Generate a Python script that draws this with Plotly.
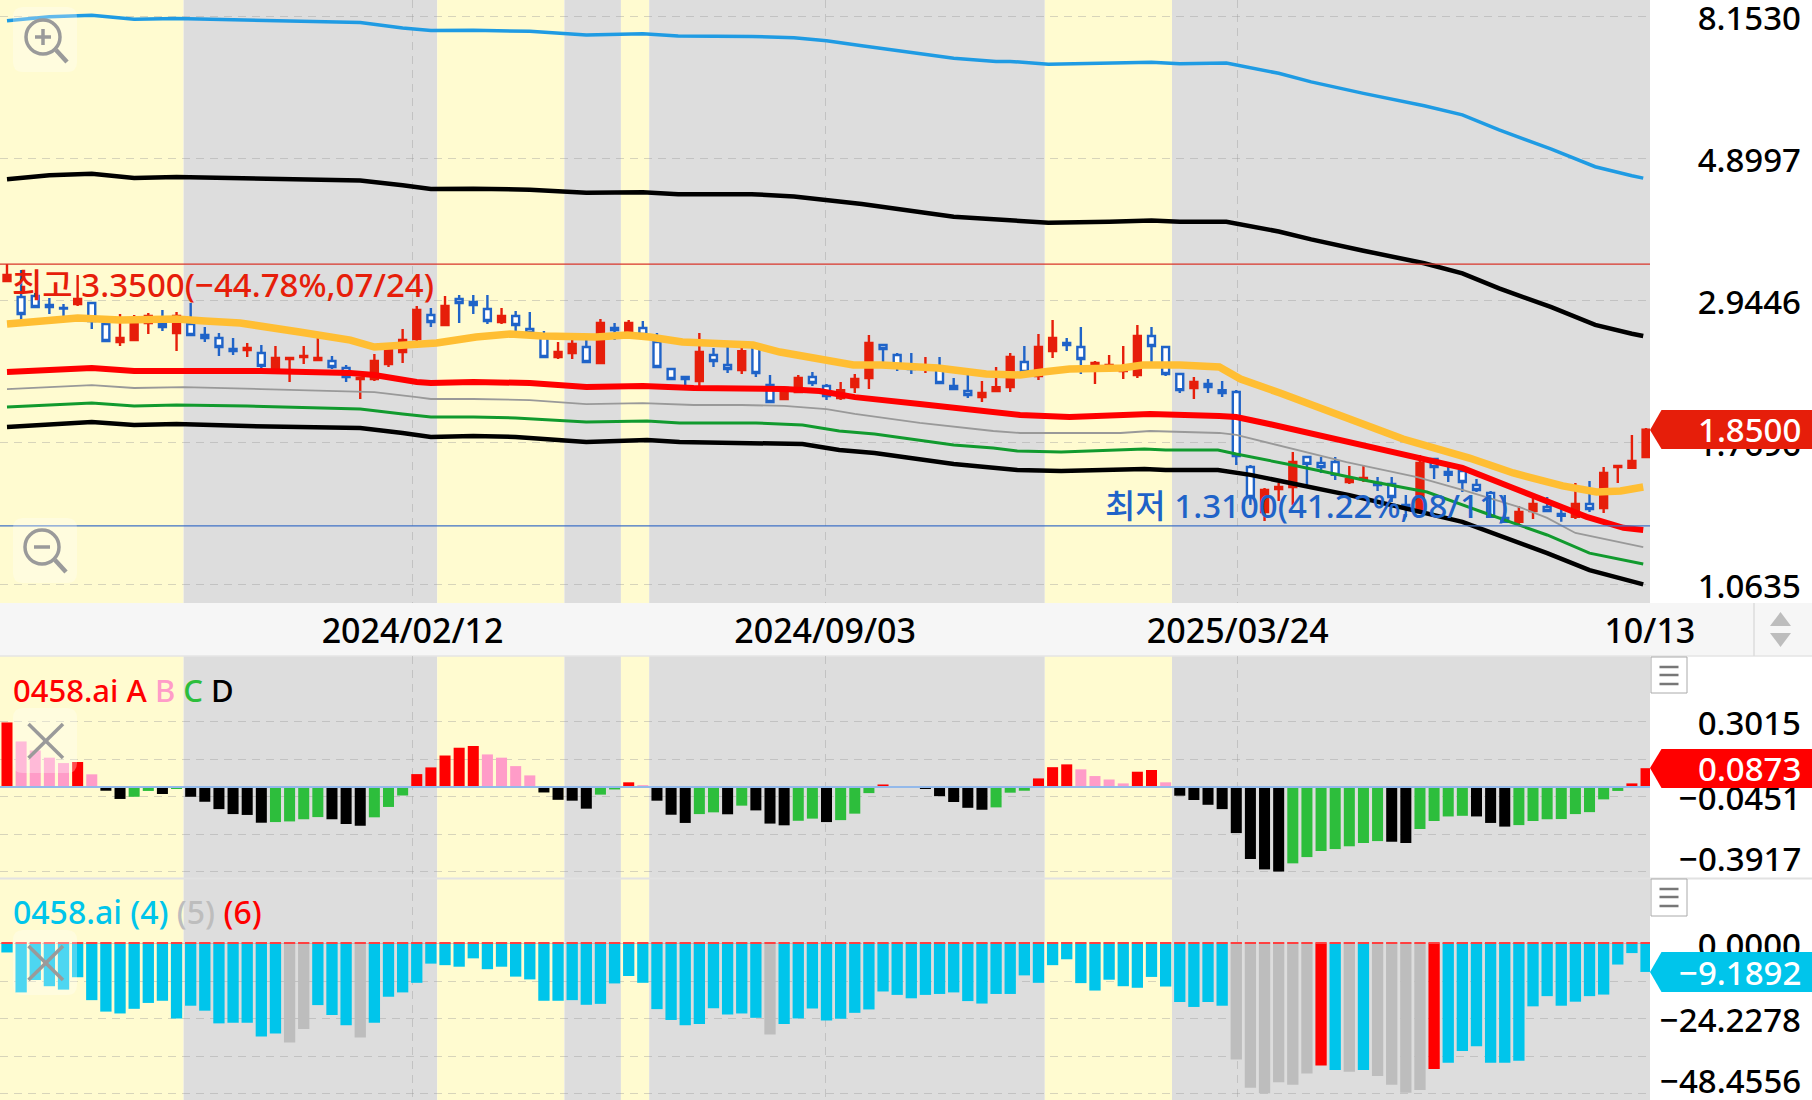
import math
import plotly.graph_objects as go

W, H = 1812, 1100
FONT = "Noto Sans, Noto Sans CJK KR, sans-serif"

# ---------- price candles (weekly, 2023/07/24 .. 2025/10/13) ----------
open_prices = [3.153,2.977,2.988,2.893,2.862,2.903,2.913,2.702,2.533,2.551,2.712,2.702,2.616,2.702,2.598,2.570,2.470,2.461,2.435,2.283,
2.383,2.401,2.375,2.367,2.308,2.218,2.218,2.341,2.444,2.560,2.791,2.693,2.955,2.924,2.851,2.722,2.781,2.654,2.598,2.401,
2.435,2.488,2.350,2.664,2.635,2.664,2.533,2.299,2.234,2.202,2.418,2.333,2.291,2.488,2.171,2.065,2.117,2.234,2.163,2.072,
2.155,2.226,2.506,2.418,2.333,2.316,2.316,2.163,2.125,2.079,2.125,2.155,2.358,2.242,2.452,2.524,2.488,2.341,2.308,2.283,
2.251,2.588,2.488,2.259,2.148,2.179,2.132,2.117,1.618,1.377,1.495,1.506,1.677,1.642,1.647,1.533,1.550,1.528,1.522,1.412,
1.377,1.665,1.590,1.595,1.517,1.474,1.348,1.329,1.382,1.402,1.367,1.353,1.417,1.397,1.618,1.613,1.677]
high_prices = [3.350,3.279,3.020,2.966,2.903,3.221,2.924,2.722,2.801,2.791,2.811,2.841,2.821,2.913,2.673,2.616,2.570,2.524,2.506,2.497,
2.392,2.497,2.579,2.409,2.333,2.226,2.426,2.488,2.654,2.882,2.862,2.988,2.999,2.999,2.999,2.862,2.831,2.821,2.635,2.533,
2.560,2.579,2.751,2.712,2.741,2.731,2.616,2.308,2.234,2.616,2.479,2.515,2.497,2.524,2.251,2.148,2.251,2.275,2.179,2.195,
2.259,2.598,2.506,2.435,2.435,2.401,2.401,2.226,2.259,2.202,2.316,2.435,2.497,2.607,2.741,2.570,2.673,2.367,2.418,2.497,
2.693,2.673,2.488,2.267,2.234,2.218,2.202,2.132,1.630,1.501,1.528,1.708,1.683,1.677,1.677,1.624,1.630,1.561,1.561,1.463,
1.689,1.665,1.647,1.624,1.550,1.485,1.463,1.407,1.448,1.453,1.397,1.528,1.539,1.618,1.630,1.815,1.861]
low_prices = [3.153,2.741,2.862,2.801,2.771,2.882,2.654,2.533,2.497,2.551,2.607,2.635,2.452,2.598,2.533,2.409,2.418,2.401,2.267,2.283,
2.195,2.341,2.375,2.299,2.195,2.065,2.202,2.316,2.350,2.479,2.673,2.693,2.712,2.801,2.702,2.702,2.626,2.598,2.401,2.383,
2.383,2.358,2.350,2.551,2.607,2.560,2.316,2.218,2.163,2.163,2.316,2.267,2.259,2.234,2.043,2.065,2.110,2.163,2.057,2.057,
2.110,2.140,2.316,2.283,2.259,2.267,2.187,2.140,2.072,2.043,2.125,2.117,2.275,2.210,2.392,2.452,2.259,2.179,2.275,2.218,
2.226,2.316,2.242,2.110,2.065,2.110,2.079,1.630,1.412,1.333,1.432,1.412,1.512,1.584,1.544,1.522,1.533,1.485,1.427,1.353,
1.372,1.550,1.533,1.479,1.479,1.353,1.329,1.310,1.343,1.382,1.329,1.343,1.377,1.372,1.528,1.613,1.677]
close_prices = [3.221,2.801,2.872,2.872,2.856,2.955,2.731,2.542,2.570,2.712,2.781,2.673,2.781,2.598,2.570,2.488,2.452,2.479,2.325,2.392,
2.392,2.409,2.392,2.316,2.234,2.226,2.367,2.470,2.551,2.841,2.722,2.882,2.913,2.893,2.731,2.781,2.693,2.616,2.401,2.444,
2.515,2.358,2.712,2.644,2.712,2.598,2.316,2.218,2.218,2.444,2.367,2.299,2.452,2.267,2.043,2.148,2.226,2.187,2.087,2.132,
2.218,2.524,2.470,2.325,2.299,2.325,2.187,2.140,2.095,2.110,2.155,2.401,2.275,2.488,2.570,2.506,2.383,2.350,2.333,2.308,
2.588,2.497,2.259,2.132,2.195,2.155,2.110,1.683,1.453,1.490,1.506,1.647,1.636,1.618,1.573,1.550,1.556,1.517,1.453,1.397,
1.642,1.618,1.573,1.533,1.490,1.353,1.329,1.377,1.417,1.382,1.358,1.417,1.392,1.584,1.624,1.653,1.850]
week_index = list(range(len(close_prices)))

# ---------- price envelope lines, read at their bends ----------
upper_x = [0,3,6,9,12,17,22,25,28,30,33,37,41,45,47.5,52.7,55.7,58,60.5,67,70,71,73.7,78,81,83,86.3,90,92.3,96,100.3,103,105.6,109.3,112.4,115,115.8]
upper_sky = [8.02,8.135,8.176,8.06,8.08,8.04,8.01,7.97,7.81,7.74,7.75,7.72,7.62,7.65,7.59,7.58,7.54,7.46,7.33,7.01,6.93,6.93,6.86,6.88,6.91,6.87,6.89,6.64,6.44,6.18,5.91,5.72,5.42,5.06,4.75,4.60,4.56]
upper_black = [4.54,4.606,4.63,4.563,4.58,4.557,4.54,4.52,4.445,4.386,4.39,4.375,4.325,4.336,4.305,4.305,4.27,4.217,4.157,3.97,3.925,3.925,3.885,3.898,3.915,3.898,3.90,3.765,3.66,3.515,3.36,3.24,3.07,2.87,2.693,2.61,2.588]
orange_x = [0,5,8,12,14,16.5,20.7,24.3,26,28,30.4,33.2,35.6,37.9,39.8,41.7,43.9,45.5,47.8,52.8,54.7,57.5,59.9,61.9,65.9,69.3,71.7,73.3,75.2,78.9,80.4,83,85.8,87.3,90.1,98.8,103.5,106.6,110.1,112.5,114.2,115.8]
orange_line = [2.702,2.761,2.741,2.751,2.731,2.712,2.626,2.551,2.488,2.497,2.524,2.579,2.607,2.588,2.579,2.579,2.598,2.579,2.533,2.506,2.444,2.375,2.333,2.333,2.308,2.259,2.251,2.275,2.299,2.308,2.333,2.333,2.316,2.218,2.110,1.789,1.671,1.584,1.512,1.479,1.485,1.506]
red_x = [0,6,9,12.5,18,24.3,26,29,30,33,37,41,45,48.6,52,55,57.5,60,64.6,69.8,71.7,75.2,78.8,80.9,85.8,87,89,94.8,99.8,103,106.6,108.7,111.8,114.4,115.8]
red_line = [2.275,2.308,2.283,2.283,2.283,2.267,2.251,2.195,2.187,2.195,2.187,2.155,2.163,2.148,2.148,2.140,2.125,2.079,2.028,1.964,1.950,1.936,1.943,1.957,1.943,1.936,1.895,1.776,1.677,1.613,1.501,1.437,1.353,1.301,1.291]
grey_x = [0,6,9,12.5,18,24.3,26,29,30,33,37,41,45,48.6,52,55,58,60,64.6,69.8,71.7,75.2,78.8,80.9,85.8,87,89,94.8,99.8,103,107.2,109,111,115.8]
grey_line = [2.140,2.171,2.148,2.155,2.140,2.125,2.117,2.079,2.065,2.065,2.057,2.028,2.035,2.021,2.021,2.014,1.992,1.957,1.895,1.841,1.828,1.828,1.828,1.841,1.828,1.815,1.770,1.647,1.561,1.490,1.397,1.348,1.277,1.214]
green_x = [0,6,9,12,17,25,28,30,33,36,41,45.3,47.6,53,56.3,58.9,61.4,67,69.8,71.5,74.6,80.5,82,85.7,87,91.3,96,100.5,104.4,109,112,115.8]
green_line = [2.007,2.035,2.014,2.021,2.014,1.992,1.957,1.936,1.936,1.929,1.901,1.908,1.895,1.895,1.881,1.841,1.821,1.751,1.732,1.714,1.708,1.726,1.720,1.720,1.695,1.624,1.544,1.479,1.377,1.268,1.188,1.143]
lower_x = [0,6,9,12,17,25,28,30,33,36,41,45.3,47.6,53,56.3,58.9,61.4,67,69.8,71.5,74.6,80.5,82,85.7,88,95,103,109,112,115.8]
lower_black = [1.868,1.901,1.881,1.888,1.874,1.861,1.828,1.802,1.808,1.802,1.770,1.782,1.770,1.763,1.757,1.720,1.701,1.636,1.613,1.601,1.595,1.607,1.601,1.601,1.573,1.463,1.329,1.188,1.118,1.062]

high_mark = 3.35
low_mark = 1.31

# ---------- oscillator panel ----------
osc_values = [.299,.211,.169,.136,.111,.116,.059,-.017,-.055,-.045,-.018,-.032,-.008,-.045,-.068,-.102,-.125,-.129,-.165,-.162,
-.159,-.149,-.139,-.149,-.171,-.179,-.140,-.092,-.039,.060,.091,.146,.182,.190,.151,.136,.097,.054,-.025,-.059,
-.063,-.100,-.035,-.011,.022,.009,-.063,-.128,-.166,-.125,-.117,-.126,-.086,-.108,-.169,-.177,-.156,-.146,-.162,-.153,
-.123,-.028,.012,.005,.003,-.008,-.042,-.069,-.096,-.105,-.094,-.026,-.017,.040,.092,.105,.082,.051,.035,.017,
.071,.079,.022,-.040,-.060,-.082,-.102,-.213,-.333,-.381,-.391,-.353,-.324,-.296,-.287,-.274,-.259,-.250,-.253,-.259,
-.194,-.157,-.136,-.133,-.136,-.166,-.183,-.176,-.157,-.149,-.148,-.125,-.116,-.057,-.018,.017,.0873]
osc_kinds = list("ABBBBABDDCCDCDDDDDDCCCCDDDCCCAAAAABBBBDDDDCCABDDDCCDCDDDCCDCCCABBDDDDDCCCAAABBBBAABDDDDDDDDCCCCCCCDDCCCCDDDCCCCCCCCAA")
osc_palette = {"A": "#FF0000", "B": "#FF9CC8", "C": "#2DBE3C", "D": "#000000"}

# ---------- momentum panel ----------
mom_values = [-2.9,-15.8,-11.8,-13.8,-14.9,-10.9,-18.3,-22.0,-22.6,-21.1,-19.2,-18.5,-24.2,-20.1,-21.7,-25.8,-25.6,-25.6,-30.0,-29.1,
-32.0,-27.6,-19.9,-23.1,-26.4,-30.4,-25.6,-17.2,-15.8,-12.7,-6.5,-7.0,-7.5,-4.8,-8.3,-7.5,-10.7,-11.6,-18.5,-18.5,
-18.3,-19.8,-19.5,-12.9,-10.5,-12.7,-21.2,-24.7,-26.4,-26.0,-20.9,-22.9,-22.6,-24.0,-29.4,-26.0,-24.2,-21.0,-24.9,-24.3,
-22.4,-21.3,-15.5,-16.6,-17.7,-16.6,-16.3,-15.8,-18.6,-19.4,-16.3,-16.3,-10.3,-12.7,-7.0,-5.1,-12.8,-15.2,-11.7,-13.8,
-14.3,-10.8,-13.9,-18.9,-20.5,-18.9,-20.1,-37.5,-46.6,-48.4,-44.8,-45.6,-42.0,-39.4,-40.9,-41.4,-40.9,-42.8,-45.6,-48.2,
-47.3,-40.5,-38.5,-34.7,-33.2,-38.5,-38.5,-37.9,-20.3,-17.0,-20.1,-18.8,-17.0,-16.5,-6.8,-3.1,-9.1892]
mom_kinds = list("CCCCCCCCCCCCCCCCCCCCGGCCCGCCCCCCCCCCCCCCCCCCCCCCCCCCCCGCCCCCCCCCCCCCCCCCCCCCCCCCCCCCCCCGGGGGGRCGCGGGGRCCCCCCCCCCCCCCCC")
mom_palette = {"C": "#00C5EB", "G": "#BDBDBD", "R": "#FF0000"}
mom_cap = [0.35] * len(mom_values)

# ---------- axis / labels ----------
grid_x = [28.7, 57.9, 87.1]
date_x = [28.7, 57.9, 87.1, 116.27]
date_text = ["2024/02/12", "2024/09/03", "2025/03/24", "10/13"]
price_ticks = [8.1530, 4.8997, 2.9446, 1.7696, 1.0635]
price_text = ["8.1530", "4.8997", "2.9446", "1.7696", "1.0635"]
osc_ticks = [0.3015, 0.1282, -0.0451, -0.2184, -0.3917]
osc_text = ["0.3015", "", "\u22120.0451", "", ""]
mom_ticks = [0.0, -12.1139, -24.2278, -36.3417, -48.4556]
mom_text = ["0.0000", "", "\u221224.2278", "", ""]
band_edges = [-0.5, 12.5, 30.45, 39.45, 43.45, 45.45, 73.45, 82.45, 116.28]
band_colors = ["#FFFBD0", "#DDDDDD", "#FFFBD0", "#DDDDDD", "#FFFBD0", "#DDDDDD", "#FFFBD0", "#DDDDDD"]

# layout helpers (pixels of the frame -> paper)
def py(p): return 1 - p / H
def px(p): return p / W

DOM1 = [py(603), 1]
DOM2 = [py(878), py(656)]
DOM3 = [0, py(879)]
XDOM = [0, px(1650)]
XRANGE = [-0.495, 116.28]

fig = go.Figure()

def line(x, y, color, width):
    fig.add_trace(go.Scatter(x=x, y=y, mode="lines", line=dict(color=color, width=width),
                             hoverinfo="skip", xaxis="x", yaxis="y"))

line(upper_x, upper_sky, "#1F9BE3", 3.5)
line(upper_x, upper_black, "#000000", 4.5)
line(orange_x, orange_line, "#FFBE33", 7.5)
line(red_x, red_line, "#FF0000", 6)
line(grey_x, grey_line, "#999999", 1.8)
line(green_x, green_line, "#119A2E", 3)
line(lower_x, lower_black, "#000000", 4.5)

fig.add_trace(go.Candlestick(
    x=week_index, open=open_prices, high=high_prices, low=low_prices, close=close_prices,
    increasing=dict(line=dict(color="#E61E0A", width=2.4), fillcolor="#E61E0A"),
    decreasing=dict(line=dict(color="#1F63C8", width=2.4), fillcolor="#FFFFFF"),
    whiskerwidth=0, hoverinfo="skip", xaxis="x", yaxis="y"))

fig.add_trace(go.Bar(x=week_index, y=osc_values, width=0.78,
                     marker=dict(color=[osc_palette[k] for k in osc_kinds], line=dict(width=0)),
                     hoverinfo="skip", xaxis="x2", yaxis="y2"))
fig.add_trace(go.Bar(x=week_index, y=mom_values, width=0.8,
                     marker=dict(color=[mom_palette[k] for k in mom_kinds], line=dict(width=0)),
                     hoverinfo="skip", xaxis="x3", yaxis="y3"))
fig.add_trace(go.Bar(x=week_index, y=mom_cap, width=0.8,
                     marker=dict(color="#FF4040", line=dict(width=0)),
                     hoverinfo="skip", xaxis="x3", yaxis="y3"))

shapes = []
# coloured bands behind all three panels
for dom in (DOM1, DOM2, DOM3):
    for i, c in enumerate(band_colors):
        shapes.append(dict(type="rect", xref="x", yref="paper", x0=band_edges[i], x1=band_edges[i + 1],
                           y0=dom[0], y1=dom[1], fillcolor=c, line_width=0, layer="below"))
# date strip
shapes.append(dict(type="rect", xref="paper", yref="paper", x0=0, x1=1, y0=py(656), y1=py(603),
                   fillcolor="#F6F6F6", line_width=0, layer="below"))
shapes.append(dict(type="line", xref="paper", yref="paper", x0=0, x1=1, y0=py(656), y1=py(656),
                   line=dict(color="#E4E4E4", width=1.5), layer="below"))
shapes.append(dict(type="line", xref="paper", yref="paper", x0=px(1754), x1=px(1754), y0=py(656), y1=py(603),
                   line=dict(color="#DDDDDD", width=1.5), layer="below"))
shapes.append(dict(type="line", xref="paper", yref="paper", x0=0, x1=1, y0=py(878.5), y1=py(878.5),
                   line=dict(color="#E2E2E2", width=2), layer="above"))
# strip arrows
shapes.append(dict(type="path", xref="paper", yref="paper", fillcolor="#BDBDBD", line_width=0,
                   path=f"M {px(1770)} {py(626)} L {px(1791)} {py(626)} L {px(1780.5)} {py(612)} Z"))
shapes.append(dict(type="path", xref="paper", yref="paper", fillcolor="#BDBDBD", line_width=0,
                   path=f"M {px(1770)} {py(633)} L {px(1791)} {py(633)} L {px(1780.5)} {py(647)} Z"))
# high / low marks
shapes.append(dict(type="line", xref="paper", yref="y", x0=0, x1=XDOM[1], y0=high_mark, y1=high_mark,
                   line=dict(color="#D8342A", width=1.2)))
shapes.append(dict(type="line", xref="paper", yref="y", x0=0, x1=XDOM[1], y0=low_mark, y1=low_mark,
                   line=dict(color="#3E70C6", width=1.2)))
# zero line of the oscillator
shapes.append(dict(type="line", xref="paper", yref="y2", x0=0, x1=XDOM[1], y0=0, y1=0,
                   line=dict(color="#93B9EA", width=2)))

def tag(top, tip, bottom, color):
    shapes.append(dict(type="path", xref="paper", yref="paper", fillcolor=color, line_width=0,
        path=(f"M {px(1650)} {py(tip)} L {px(1661.5)} {py(top)} L {px(1812)} {py(top)} "
              f"L {px(1812)} {py(bottom)} L {px(1661.5)} {py(bottom)} Z")))
tag(410, 430, 449, "#E61E0A")
tag(749, 768, 788, "#FF0000")
tag(952, 972, 992, "#00C5EB")

# translucent tool buttons
def round_box(x0, y0, x1, y1, r=10):
    p = (f"M {px(x0+r)} {py(y0)} L {px(x1-r)} {py(y0)} Q {px(x1)} {py(y0)} {px(x1)} {py(y0+r)} "
         f"L {px(x1)} {py(y1-r)} Q {px(x1)} {py(y1)} {px(x1-r)} {py(y1)} L {px(x0+r)} {py(y1)} "
         f"Q {px(x0)} {py(y1)} {px(x0)} {py(y1-r)} L {px(x0)} {py(y0+r)} Q {px(x0)} {py(y0)} {px(x0+r)} {py(y0)} Z")
    shapes.append(dict(type="path", xref="paper", yref="paper", path=p,
                       fillcolor="rgba(255,255,255,0.30)", line_width=0))
def seg(x0, y0, x1, y1, color="#9A9A9A", width=3.5):
    shapes.append(dict(type="line", xref="paper", yref="paper", x0=px(x0), x1=px(x1), y0=py(y0), y1=py(y1),
                       line=dict(color=color, width=width)))
def magnifier(cx, cy, plus):
    shapes.append(dict(type="circle", xref="paper", yref="paper", x0=px(cx-17), x1=px(cx+17),
                       y0=py(cy+17), y1=py(cy-17), line=dict(color="#9A9A9A", width=3.5)))
    seg(cx+13, cy+13, cx+24, cy+25, width=4.5)
    seg(cx-8, cy, cx+8, cy, width=3.5)
    if plus:
        seg(cx, cy-8, cx, cy+8, width=3.5)

round_box(13, 7, 77, 72)
magnifier(43, 37, True)
round_box(13, 518, 77, 583)
magnifier(42, 547, False)
round_box(13, 708, 77, 773)
seg(28.5, 724, 63, 758); seg(28.5, 758, 63, 724)
round_box(13, 930, 77, 995)
seg(28.5, 946, 63, 980); seg(28.5, 980, 63, 946)

# panel menu buttons
for top, bottom, rows in ((657, 693, (667, 675, 684)), (879, 916, (889, 897, 906))):
    shapes.append(dict(type="rect", xref="paper", yref="paper", x0=px(1651), x1=px(1687), y0=py(bottom), y1=py(top),
                       fillcolor="#FFFFFF", line=dict(color="#AAAAAA", width=1)))
    for r in rows:
        seg(1659.5, r, 1678.5, r, color="#777777", width=2.5)

def note(x, y, text, color="#000000", size=33, anchor="left"):
    return dict(xref="paper", yref="paper", x=px(x), y=py(y), text=text, showarrow=False,
                xanchor=anchor, yanchor="middle", font=dict(family=FONT, size=size, color=color, weight=500))

annotations = [
    note(10, 285, "최고 3.3500(\u221244.78%,07/24)", "#E61E0A"),
    note(1103, 506, "최저 1.3100(41.22%,08/11)", "#1F63C8"),
    note(11, 690, '<span style="color:#FF0000">0458.ai A</span> <span style="color:#FF9CC8">B</span> '
                  '<span style="color:#2DBE3C">C</span> <span style="color:#000000">D</span>', size=31),
    note(11, 911, '<span style="color:#00C5EB">0458.ai (4)</span> <span style="color:#BDBDBD">(5)</span> '
                  '<span style="color:#FF0000">(6)</span>', size=32),
    note(1803, 430, "1.8500", "#FFFFFF", anchor="right"),
    note(1803, 768, "0.0873", "#FFFFFF", anchor="right"),
    note(1803, 972, "\u22129.1892", "#FFFFFF", anchor="right"),
    note(1803, 858, "\u22120.3917", anchor="right"),
    note(1803, 1080, "\u221248.4556", anchor="right"),
]

GRID = "rgba(150,150,150,0.38)"
def yaxis(dom, ticks, text, rng, kind="linear"):
    return dict(domain=dom, range=rng, type=kind, side="left", anchor="free", position=px(1801),
                automargin=False, ticklabeloverflow="allow", ticklabelshift=2,
                tickmode="array", tickvals=ticks, ticktext=text, ticks="", showline=False, zeroline=False,
                showgrid=True, gridcolor=GRID, griddash="8px,6px", gridwidth=1, fixedrange=True,
                tickfont=dict(family=FONT, size=33, color="#000000", weight=500))
def xaxis(**kw):
    base = dict(domain=XDOM, range=XRANGE, type="linear", showline=False, zeroline=False,
                automargin=False, ticks="", ticklabeloverflow="allow",
                showgrid=True, gridcolor=GRID, griddash="8px,6px", gridwidth=1, fixedrange=True)
    base.update(kw)
    return base

fig.update_layout(
    width=W, height=H, autosize=False, margin=dict(l=0, r=0, t=0, b=0, pad=0),
    paper_bgcolor="#FFFFFF", plot_bgcolor="rgba(0,0,0,0)", showlegend=False,
    barmode="overlay", hovermode=False, dragmode=False, font=dict(family=FONT),
    xaxis=xaxis(anchor="y", tickmode="array", tickvals=date_x, ticktext=date_text, ticklabelstandoff=5,
                tickfont=dict(family=FONT, size=34, color="#000000", weight=500), rangeslider=dict(visible=False)),
    xaxis2=xaxis(anchor="y2", tickmode="array", tickvals=grid_x, showticklabels=False, matches="x"),
    xaxis3=xaxis(anchor="y3", tickmode="array", tickvals=grid_x, showticklabels=False, matches="x"),
    yaxis=yaxis(DOM1, price_ticks, price_text, [math.log10(0.9935), math.log10(8.637)], "log"),
    yaxis2=yaxis(DOM2, osc_ticks, osc_text, [-0.4208, 0.6065]),
    yaxis3=yaxis(DOM3, mom_ticks, mom_text, [-50.55, 20.83]),
    shapes=shapes, annotations=annotations,
)

fig.write_html("out.html", config={"displayModeBar": False},
               post_script="document.body.style.margin='0';document.documentElement.style.overflow='hidden';")
